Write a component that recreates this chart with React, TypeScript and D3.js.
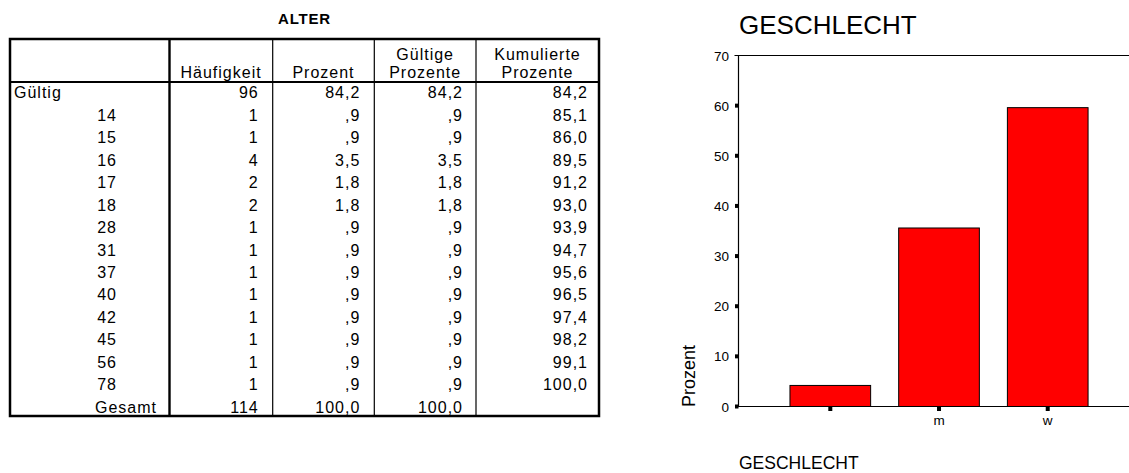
import React from "react";
import * as d3 from "d3";

// ---------- Table data (ALTER) ----------
const tableTitle = "ALTER";
const headerLines = [
  ["", ""],
  ["", "Häufigkeit"],
  ["", "Prozent"],
  ["Gültige", "Prozente"],
  ["Kumulierte", "Prozente"],
];
const groupLabel = "Gültig";
const totalLabel = "Gesamt";
const ageLabels = ["", "14", "15", "16", "17", "18", "28", "31", "37", "40", "42", "45", "56", "78"];
const ageFreq = [96, 1, 1, 4, 2, 2, 1, 1, 1, 1, 1, 1, 1, 1];
const agePercent = [84.2, 0.9, 0.9, 3.5, 1.8, 1.8, 0.9, 0.9, 0.9, 0.9, 0.9, 0.9, 0.9, 0.9];
const ageValidPercent = [84.2, 0.9, 0.9, 3.5, 1.8, 1.8, 0.9, 0.9, 0.9, 0.9, 0.9, 0.9, 0.9, 0.9];
const ageCumPercent = [84.2, 85.1, 86.0, 89.5, 91.2, 93.0, 93.9, 94.7, 95.6, 96.5, 97.4, 98.2, 99.1, 100.0];
const totalFreq = 114;
const totalPercent = 100.0;
const totalValidPercent = 100.0;

// ---------- Bar chart data (GESCHLECHT) ----------
const chartTitle = "GESCHLECHT";
const sexCategories = ["", "m", "w"];
const sexPercent = [4.2, 35.6, 59.6];
const yTicks = [0, 10, 20, 30, 40, 50, 60, 70];
const yLabel = "Prozent";
const xLabel = "GESCHLECHT";

const FONT = "'Liberation Sans', Arial, Helvetica, sans-serif";

const fmtNum = (v: number) => {
  const s = d3.format(".1f")(v).replace(".", ",");
  return s.startsWith("0,") ? s.slice(1) : s;
};

function FreqTable() {
  // layout
  const left = 10, right = 599, top = 39, bottom = 416, headerBottom = 82;
  const colEdges = [left, 169.5, 272.7, 374.3, 476, right];
  const rowLabels = ageLabels.map((_, i) => "r" + i).concat(["total"]);
  const rowY = d3.scalePoint<string>().domain(rowLabels).range([98.3, 412.7]);
  const numRightPad = [0, 15, 15, 14, 12];

  const rows = ageLabels.map((lab, i) => ({
    key: "r" + i,
    label: lab,
    cells: [String(ageFreq[i]), fmtNum(agePercent[i]), fmtNum(ageValidPercent[i]), fmtNum(ageCumPercent[i])],
  }));
  rows.push({
    key: "total",
    label: totalLabel,
    cells: [String(totalFreq), fmtNum(totalPercent), fmtNum(totalValidPercent), ""],
  });

  const textStyle = { fontFamily: FONT, fontSize: 16, letterSpacing: 1 } as React.CSSProperties;

  return (
    <g>
      <text x={(left + right) / 2} y={24} textAnchor="middle"
        style={{ fontFamily: FONT, fontSize: 15, fontWeight: "bold", letterSpacing: 0.8 }}>
        {tableTitle}
      </text>
      {/* header text */}
      {headerLines.map((lines, c) => {
        const cx = (colEdges[c] + colEdges[c + 1]) / 2;
        return (
          <g key={"h" + c}>
            <text x={cx} y={60} textAnchor="middle" style={textStyle}>{lines[0]}</text>
            <text x={cx} y={78} textAnchor="middle" style={textStyle}>{lines[1]}</text>
          </g>
        );
      })}
      {/* body */}
      {rows.map((r, i) => {
        const y = rowY(r.key) as number;
        return (
          <g key={r.key}>
            {i === 0 && <text x={14} y={y} style={textStyle}>{groupLabel}</text>}
            {i > 0 && r.key !== "total" && (
              <text x={117} y={y} textAnchor="end" style={textStyle}>{r.label}</text>
            )}
            {r.key === "total" && (
              <text x={157} y={y} textAnchor="end" style={textStyle}>{r.label}</text>
            )}
            {r.cells.map((v, c) => (
              <text key={c} x={colEdges[c + 2] - numRightPad[c + 1] + 1} y={y} textAnchor="end" style={textStyle}>
                {v}
              </text>
            ))}
          </g>
        );
      })}
      {/* lines */}
      {colEdges.slice(2, 5).map((x, i) => (
        <line key={"c" + i} x1={x} x2={x} y1={top} y2={bottom} stroke="#000" strokeWidth={1.2} />
      ))}
      <line x1={colEdges[1]} x2={colEdges[1]} y1={top} y2={bottom} stroke="#000" strokeWidth={2.4} />
      <line x1={left} x2={right} y1={headerBottom} y2={headerBottom} stroke="#000" strokeWidth={2.2} />
      <rect x={left} y={top} width={right - left} height={bottom - top} fill="none" stroke="#000" strokeWidth={2.5} />
    </g>
  );
}

function BarChart() {
  const axisX = 738.5;
  const y = d3.scaleLinear().domain([0, 70]).range([406.5, 55.5]);
  const x = d3.scaleBand<string>()
    .domain(sexCategories)
    .range([axisX, 1129])
    .paddingInner(0.258)
    .paddingOuter(0.425)
    .align(0.557);
  const bw = x.bandwidth();
  const tickFont = { fontFamily: FONT, fontSize: 13.5 } as React.CSSProperties;

  return (
    <g>
      <text x={739} y={34} style={{ fontFamily: FONT, fontSize: 26 }}>{chartTitle}</text>
      {/* bars */}
      {sexCategories.map((c, i) => (
        <rect key={"b" + i} x={x(c)} y={y(sexPercent[i])} width={bw} height={y(0) - y(sexPercent[i])}
          fill="#ff0000" stroke="#000" strokeWidth={1} />
      ))}
      {/* axes */}
      <line x1={axisX} x2={axisX} y1={y(70)} y2={y(0)} stroke="#000" strokeWidth={1.2} />
      <line x1={734.5} x2={1129} y1={y(70)} y2={y(70)} stroke="#000" strokeWidth={1.2} />
      <line x1={735} x2={1129} y1={y(0)} y2={y(0)} stroke="#000" strokeWidth={1.2} />
      {yTicks.map((t) => (
        <g key={"t" + t}>
          {t !== 70 && <rect x={axisX - 3.5} y={y(t) - 2} width={3.5} height={4} fill="#000" />}
          <text x={729} y={y(t) + 5} textAnchor="end" style={tickFont}>{t}</text>
        </g>
      ))}
      {sexCategories.map((c, i) => {
        const cx = (x(c) as number) + bw / 2;
        return (
          <g key={"x" + i}>
            <rect x={cx - 2} y={y(0) + 0.5} width={4} height={4} fill="#000" />
            <text x={cx} y={425} textAnchor="middle" style={tickFont}>{c}</text>
          </g>
        );
      })}
      <text transform={`translate(695,376) rotate(-90)`} textAnchor="middle"
        style={{ fontFamily: FONT, fontSize: 18 }}>{yLabel}</text>
      <text x={739} y={468.5} style={{ fontFamily: FONT, fontSize: 17.5 }}>{xLabel}</text>
    </g>
  );
}

export default function App() {
  return (
    <svg width={1129} height={473} style={{ position: "absolute", left: 0, top: 0, background: "#fff" }}>
      <rect x={0} y={0} width={1129} height={473} fill="#fff" />
      <FreqTable />
      <BarChart />
    </svg>
  );
}
